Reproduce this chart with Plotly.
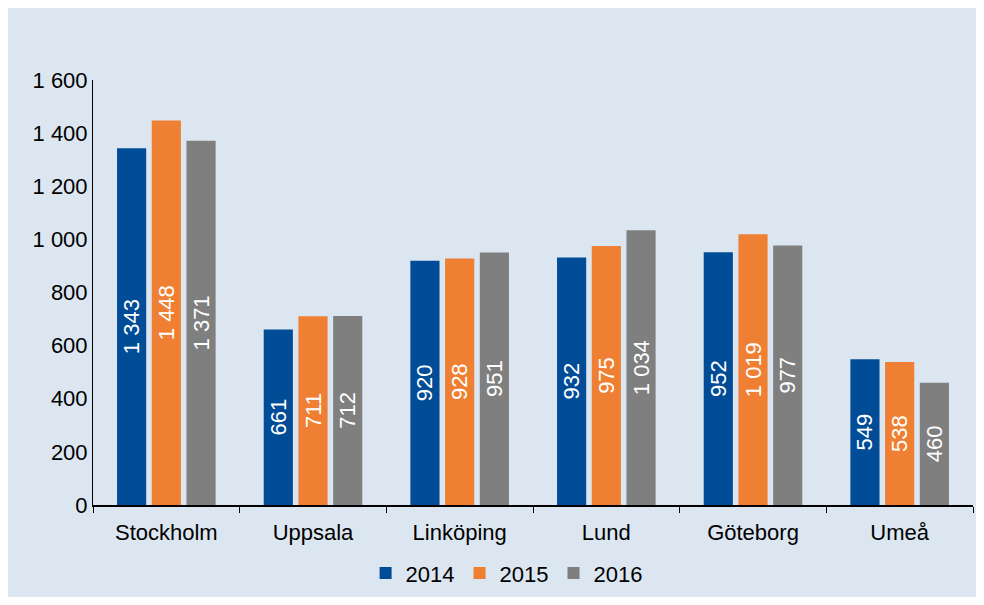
import plotly.graph_objects as go

cities = ["Stockholm", "Uppsala", "Linköping", "Lund", "Göteborg", "Umeå"]
years = ["2014", "2015", "2016"]
v2014 = [1343, 661, 920, 932, 952, 549]
v2015 = [1448, 711, 928, 975, 1019, 538]
v2016 = [1371, 712, 951, 1034, 977, 460]

colors = {"2014": "#004c97", "2015": "#ee7f33", "2016": "#7f7f7f"}
BG = "#dce6f0"
FONT = "Liberation Sans, Arial, sans-serif"


def _fmt(v: int) -> str:
    return f"{v:,}".replace(",", " ")


fig = go.Figure()
for year, vals in zip(years, (v2014, v2015, v2016)):
    fig.add_trace(go.Bar(
        x=cities, y=vals, name=year,
        marker=dict(color=colors[year], line=dict(width=0)),
        text=[_fmt(v) for v in vals], textposition="inside",
        insidetextanchor="middle", textangle=-90,
        textfont=dict(color="white", size=22, family=FONT),
        cliponaxis=False,
    ))

# page has an 8px body margin, so the figure is sized to fit without scrollbars
fig.update_layout(
    width=968, height=589,
    paper_bgcolor=BG, plot_bgcolor=BG,
    margin=dict(l=85, r=3, t=72, b=90),
    barmode="group", bargap=0.29, bargroupgap=0.16,
    separators=", ",
    font=dict(family=FONT, size=22, color="black"),
    uniformtext=dict(minsize=22, mode="show"),
    # legend bottom sits on the figure edge so it doesn't push the margin
    legend=dict(orientation="h", xanchor="center", x=0.47, yanchor="bottom", y=-0.21,
                font=dict(size=22), itemwidth=30, traceorder="normal"),
    showlegend=True,
)
fig.update_xaxes(
    showline=True, linecolor="black", linewidth=1.5,
    ticks="outside", tickson="boundaries", ticklen=6, tickcolor="black",
    showgrid=False, tickfont=dict(size=22), automargin=False,
    ticklabelstandoff=7,
)
fig.update_yaxes(
    range=[0, 1600], dtick=200, tickformat=",d",
    showline=True, linecolor="black", linewidth=1,
    showgrid=False, zeroline=False, ticks="", tickfont=dict(size=22),
    automargin=False,
)

fig.write_html("out.html")
